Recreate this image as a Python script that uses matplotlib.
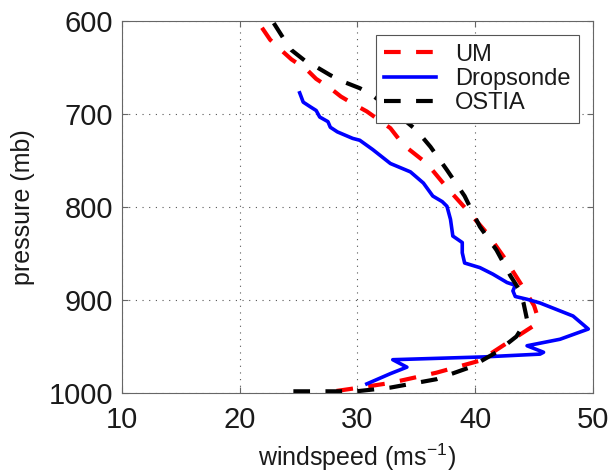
import matplotlib
matplotlib.use("Agg")
import matplotlib.pyplot as plt

plt.rcParams['font.family'] = ['Liberation Sans', 'DejaVu Sans']
plt.rcParams['mathtext.fontset'] = 'custom'
plt.rcParams['mathtext.rm'] = 'Liberation Sans'

# UM model profile (pressure in mb, windspeed in m/s)
um_p = [607, 620, 633, 641, 652, 662, 672, 681, 690, 697, 715, 733, 753, 779,
        803, 828, 853, 887, 906, 918, 928, 946, 965, 978, 989, 994, 998]
um_ws = [21.9, 22.6, 23.7, 24.4, 25.7, 26.5, 27.7, 28.6, 29.8, 30.8, 32.8, 33.9,
         35.9, 37.6, 39.3, 41.0, 42.4, 44.1, 45.0, 45.3, 44.9, 42.7, 40.4, 36.7,
         32.8, 30.2, 28.0]

# Dropsonde observation
drop_p = [677, 687, 692, 696, 703, 708, 714, 719, 726, 728, 738, 753, 762, 774,
          788, 794, 799, 813, 831, 838, 849, 860, 865, 872, 881, 884, 890, 896,
          899, 903, 910, 917, 931, 942, 949, 956, 958, 961, 964, 972, 979, 990]
drop_ws = [25.1, 25.4, 26.0, 26.5, 26.8, 27.5, 27.7, 28.3, 29.6, 30.2, 31.3, 32.8,
           34.5, 35.6, 36.4, 37.2, 37.6, 37.9, 38.1, 38.9, 38.9, 39.1, 40.4, 41.5,
           42.7, 43.4, 43.2, 43.4, 44.4, 45.5, 46.9, 48.3, 49.6, 47.2, 44.4, 45.8,
           45.5, 40.7, 33.0, 34.2, 32.8, 30.8]

# OSTIA run
ostia_p = [602, 624, 631, 642, 649, 658, 665, 672, 678, 698, 717, 735, 760, 788,
           806, 821, 846, 874, 888, 903, 921, 939, 956, 972, 985, 994, 998, 998]
ostia_ws = [22.9, 24.0, 24.4, 25.5, 26.5, 27.7, 28.8, 30.2, 31.1, 33.2, 35.0, 36.2,
            37.6, 39.1, 39.8, 40.4, 41.8, 43.0, 43.7, 44.1, 44.4, 43.5, 41.8, 39.6,
            36.7, 32.8, 29.9, 24.3]

fig = plt.figure(figsize=(6.12, 4.72), dpi=100)
ax = fig.add_axes([0.199, 0.167, 0.770, 0.788])

dash = (0, (4, 3.7))
ax.plot(um_ws, um_p, color='red', lw=3, linestyle=dash, label='UM')
ax.plot(drop_ws, drop_p, color='blue', lw=2.6, label='Dropsonde')
ax.plot(ostia_ws, ostia_p, color='black', lw=3, linestyle=dash, label='OSTIA')

ax.set_xlim(10, 50)
ax.set_ylim(1000, 600)
ax.set_xticks([10, 20, 30, 40, 50])
ax.set_yticks([600, 700, 800, 900, 1000])
ax.grid(True, linestyle=(0, (1, 5)), color='#555555', linewidth=0.8)
ax.tick_params(direction='in', top=True, right=True, labelsize=21, length=4,
               color='#666666', labelcolor='#1a1a1a')
ax.tick_params(axis='x', pad=9)
ax.tick_params(axis='y', pad=6)
for s in ax.spines.values():
    s.set_color('#666666')
    s.set_linewidth(0.8)

ax.set_xlabel('windspeed (ms$^{-1}$)', fontsize=18, labelpad=6, color='#1a1a1a')
ax.set_ylabel('pressure (mb)', fontsize=18, labelpad=10, color='#1a1a1a')

leg = ax.legend(loc='upper right', fontsize=17, fancybox=False, framealpha=1,
                edgecolor='#555555', handlelength=2.2, borderaxespad=0.6,
                labelspacing=0.1, handletextpad=0.8, borderpad=0.35)
leg.get_frame().set_linewidth(0.8)
for t in leg.get_texts():
    t.set_color('#1a1a1a')

fig.savefig('out.png', dpi=100)
